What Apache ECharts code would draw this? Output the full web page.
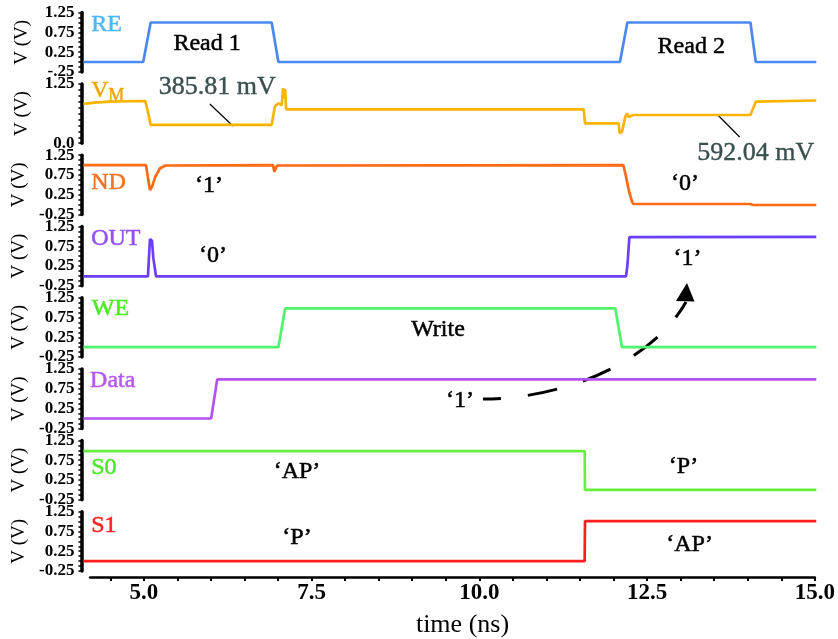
<!DOCTYPE html>
<html><head><meta charset="utf-8">
<script src="https://cdn.jsdelivr.net/npm/echarts@6/dist/echarts.min.js"></script>
<style>html,body{margin:0;padding:0;background:#fff}#c{width:838px;height:639px}</style>
</head><body><div id="c"></div>
<script>
// ---- data: [time (ns), voltage (V)] ----
const RE   = [[4.1,0],[4.99,0],[5.1,1.0],[6.9,1.0],[7.0,0],[12.08,0],[12.19,1.0],[14.02,1.0],[14.1,0],[15,0]];
const VM   = [[4.1,0.83],[4.3,0.86],[4.6,0.88],[5.02,0.89],[5.04,0.87],[5.07,0.6],[5.1,0.385],[6.0,0.385],[6.9,0.388],
              [6.95,0.785],[7.0,0.84],[7.05,0.8],[7.07,1.16],[7.085,0.95],[7.1,1.14],[7.115,0.715],[9.5,0.715],[11.54,0.715],
              [11.56,0.42],[12.06,0.42],[12.075,0.21],[12.11,0.24],[12.16,0.56],[12.185,0.63],[12.21,0.55],[12.28,0.594],
              [14.02,0.594],[14.1,0.875],[15,0.9]];
const ND   = [[4.1,1.0],[5.03,1.0],[5.07,0.58],[5.09,0.37],[5.12,0.45],[5.17,0.71],[5.24,0.92],[5.32,0.99],[6.92,1.0],
              [6.94,0.83],[6.98,0.99],[12.13,1.0],[12.17,0.71],[12.21,0.37],[12.26,0.07],[12.28,0.015],[14.02,0.015],
              [14.04,0.04],[14.06,-0.01],[15,-0.01]];
const OUT  = [[4.1,-0.01],[5.06,-0.01],[5.09,0.93],[5.12,0.89],[5.14,0.45],[5.18,-0.01],[12.17,-0.01],[12.19,0.25],[12.22,0.98],[15,0.99]];
const WE   = [[4.1,0],[7.0,0],[7.1,0.985],[12.01,0.985],[12.11,0],[15,0]];
const DATA = [[4.1,0],[6.0,0],[6.09,0.99],[15,0.99]];
const S0   = [[4.1,0.98],[11.555,0.98],[11.56,0],[15,0]];
const S1   = [[4.1,0],[11.555,0],[11.56,1.01],[15,1.01]];

const panelData   = [RE, VM, ND, OUT, WE, DATA, S0, S1];
const panelNames  = ['RE', 'V', 'ND', 'OUT', 'WE', 'Data', 'S0', 'S1'];
const lineColors  = ['#4a88f2', '#f8b400', '#ff6a14', '#6a3ff5', '#50f46c', '#b552f5', '#66f03c', '#ff1d1d'];
const labelColors = ['#4db8f7', '#f5a300', '#f07424', '#9450f0', '#48ee22', '#b558f0', '#48e826', '#ff2020'];

const yLabelVals   = [-0.25, 0.25, 0.75, 1.25];
const vmLabelVals  = [0, 1.25];
const yTickVals    = [-0.25,-0.125,0,0.125,0.25,0.375,0.5,0.625,0.75,0.875,1.0,1.125,1.25];
const vmTickVals   = [0,0.125,0.25,0.375,0.5,0.625,0.75,0.875,1.0,1.125,1.25];
const xLabelVals   = [5, 7.5, 10, 12.5, 15];
const xTickVals    = [4.5,5,5.5,6,6.5,7,7.5,8,8.5,9,9.5,10,10.5,11,11.5,12,12.5,13,13.5,14,14.5,15];

// annotations: [panel, time, value, text]
const notes = [
  [0, 5.94, 0.455, 'Read 1'], [0, 13.14, 0.39, 'Read 2'],
  [2, 5.968, 0.47, '‘1’'], [2, 13.047, 0.52, '‘0’'],
  [3, 6.028, 0.503, '‘0’'], [3, 13.084, 0.43, '‘1’'],
  [4, 9.374, 0.435, 'Write'], [5, 9.70, 0.44, '‘1’'],
  [6, 7.277, 0.45, '‘AP’'], [6, 13.025, 0.577, '‘P’'],
  [7, 7.277, 0.584, '‘P’'], [7, 13.115, 0.407, '‘AP’']
];
const mvNotes = [[1, 6.09, 1.185, '385.81 mV'], [1, 14.10, -0.207, '592.04 mV']];
const leaders = [[1, 5.98, 0.826, 6.325, 0.363], [1, 13.535, 0.594, 13.86, 0.131]];
const nameAnchors = [[4.215,0.95],[4.215,1.10],[4.215,0.56],[4.215,0.946],[4.225,0.98],[4.2,0.96],[4.215,0.55],[4.215,0.89]];

const SERIF = '"Liberation Serif", "Times New Roman", serif';
const PT = 12.6, PS = 71.3, PH = 59.3, L = 83.4, R = 21.7;

const grids = [], xAxes = [], yAxes = [], series = [];
panelData.forEach((d, i) => {
  const isVM = i === 1;
  grids.push({left: L, right: R, top: PT + PS * i, height: PH});
  xAxes.push({gridIndex: i, type: 'value', min: 4.1, max: 15, show: false});
  yAxes.push({
    gridIndex: i, type: 'value', min: isVM ? 0 : -0.25, max: 1.25, offset: 2,
    axisLine: {show: true, onZero: false, lineStyle: {color: '#000', width: 3.5}},
    axisTick: {show: true, length: 3, lineStyle: {color: '#000', width: 1.5}, customValues: isVM ? vmTickVals : yTickVals},
    axisLabel: {
      customValues: isVM ? vmLabelVals : yLabelVals, margin: 7, color: '#000',
      fontFamily: SERIF, fontSize: 17, fontWeight: 'bold',
      formatter: v => isVM ? (v === 0 ? '0.0' : '1.25') : (i === 0 && v < 0 ? '-.25' : v.toFixed(2))
    },
    splitLine: {show: false},
    name: 'V (V)', nameLocation: 'middle', nameGap: 50,
    nameTextStyle: {fontFamily: SERIF, fontSize: 19, color: '#000'}
  });
  series.push({
    type: 'line', xAxisIndex: i, yAxisIndex: i, data: d, showSymbol: false, symbol: 'none',
    lineStyle: {color: lineColors[i], width: 2.7}, itemStyle: {color: lineColors[i]}, animation: false
  });
});
// bottom time axis
grids.push({left: L + 6.72, right: R, top: 575, height: 2.5});
xAxes.push({
  gridIndex: 8, type: 'value', min: 4.2, max: 15, position: 'bottom',
  axisLine: {show: true, onZero: false, lineStyle: {color: '#000', width: 2.5}},
  axisTick: {show: true, length: 4, lineStyle: {color: '#000', width: 2}, customValues: xTickVals},
  axisLabel: {customValues: xLabelVals, formatter: v => v.toFixed(1), margin: 5, color: '#000',
              fontFamily: SERIF, fontSize: 23, fontWeight: 'bold'},
  splitLine: {show: false},
  name: 'time (ns)', nameLocation: 'middle', nameGap: 35,
  nameTextStyle: {fontFamily: SERIF, fontSize: 26, color: '#000', padding: [0, 0, 0, 20]}
});
yAxes.push({gridIndex: 8, type: 'value', min: 0, max: 1, show: false});

const chart = echarts.init(document.getElementById('c'), null, {renderer: 'canvas'});
chart.setOption({animation: false, backgroundColor: '#fff', grid: grids, xAxis: xAxes, yAxis: yAxes, series: series});

const P = (i, t, v) => chart.convertToPixel({gridIndex: i}, [t, v]);
const g = [];
notes.forEach(([i, t, v, s]) => {
  const [x, y] = P(i, t, v);
  g.push({type: 'text', x, y, style: {text: s, font: '24px ' + SERIF, fill: '#000', stroke: '#000', lineWidth: 0.5,
          align: 'center', verticalAlign: 'middle'}});
});
mvNotes.forEach(([i, t, v, s]) => {
  const [x, y] = P(i, t, v);
  g.push({type: 'text', x, y, style: {text: s, font: '26px ' + SERIF, fill: '#3b4f4f', stroke: '#3b4f4f', lineWidth: 0.4,
          align: 'center', verticalAlign: 'middle'}});
});
leaders.forEach(([i, t1, v1, t2, v2]) => {
  const [x1, y1] = P(i, t1, v1), [x2, y2] = P(i, t2, v2);
  g.push({type: 'line', shape: {x1, y1, x2, y2}, style: {stroke: '#000', lineWidth: 1.2}});
});
panelNames.forEach((s, i) => {
  const [x, y] = P(i, nameAnchors[i][0], nameAnchors[i][1]);
  g.push({type: 'text', x, y, style: {text: s, font: '24px ' + SERIF, fill: labelColors[i], stroke: labelColors[i], lineWidth: 0.5,
          align: 'left', verticalAlign: 'middle'}});
});
{ // subscript M of V_M
  const [x, y] = P(1, 4.47, 0.99);
  g.push({type: 'text', x, y, style: {text: 'M', font: '18px ' + SERIF, fill: labelColors[1], stroke: labelColors[1], lineWidth: 0.4,
          align: 'left', verticalAlign: 'middle'}});
}
{ // dashed write arrow (Data panel coordinates)
  const [sx, sy] = P(5, 10.043, 0.493), [c1x, c1y] = P(5, 11.188, 0.493),
        [c2x, c2y] = P(5, 12.527, 1.353), [ex, ey] = P(5, 13.062, 2.947);
  g.push({type: 'bezierCurve', shape: {x1: sx, y1: sy, cpx1: c1x, cpy1: c1y, cpx2: c2x, cpy2: c2y, x2: ex, y2: ey},
          style: {stroke: '#000', lineWidth: 3, fill: null, lineDash: [30, 27], lineDashOffset: 12}});
  const tip = P(5, 13.077, 3.428), bl = P(5, 12.913, 2.973), br = P(5, 13.188, 2.960);
  g.push({type: 'polygon', shape: {points: [tip, bl, br]}, style: {fill: '#000'}});
}
chart.setOption({graphic: g});
</script></body></html>
